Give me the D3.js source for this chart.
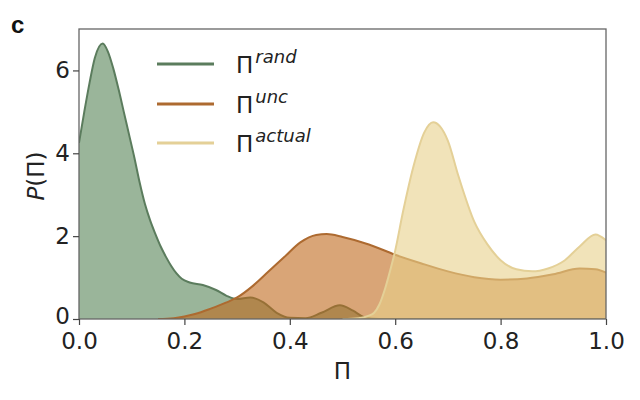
<!DOCTYPE html>
<html><head><meta charset="utf-8">
<script src="https://cdn.jsdelivr.net/npm/d3@7"></script>
<style>body{margin:0;background:#fff;} svg{display:block;font-family:"DejaVu Sans",sans-serif;}</style>
</head><body><svg id="c" width="640" height="400"></svg>
<script>
const xTicks = [0, 0.2, 0.4, 0.6, 0.8, 1.0];
const yTicks = [0, 2, 4, 6];
const seriesNames = ["rand", "unc", "actual"];
const randX = [0,0.01,0.02,0.03,0.045,0.055,0.065,0.075,0.085,0.095,0.105,0.115,0.125,0.135,0.145,0.155,0.165,0.175,0.185,0.195,0.21,0.235,0.26,0.28,0.30,0.325,0.35,0.375,0.40,0.43,0.46,0.495,0.52,0.54,0.57,0.6,1.0];
const randY = [4.25,5.0,5.7,6.3,6.65,6.45,6.05,5.55,5.0,4.45,3.9,3.3,2.78,2.38,2.05,1.75,1.5,1.28,1.1,0.97,0.88,0.82,0.7,0.56,0.48,0.52,0.4,0.15,0.03,0.02,0.15,0.33,0.2,0.05,0,0,0];
const uncX = [0.15,0.18,0.20,0.22,0.25,0.28,0.30,0.33,0.36,0.39,0.42,0.45,0.47,0.50,0.55,0.60,0.65,0.70,0.75,0.80,0.85,0.90,0.95,0.98,1.0];
const uncY = [0,0.02,0.06,0.12,0.25,0.4,0.52,0.8,1.15,1.5,1.85,2.03,2.05,1.98,1.8,1.55,1.34,1.15,1.01,0.95,0.98,1.08,1.22,1.2,1.12];
const actX = [0.50,0.53,0.55,0.56,0.57,0.58,0.59,0.60,0.615,0.635,0.655,0.672,0.685,0.70,0.72,0.75,0.775,0.80,0.83,0.86,0.89,0.92,0.95,0.98,1.0];
const actY = [0,0.02,0.08,0.15,0.35,0.7,1.15,1.65,2.6,3.7,4.5,4.75,4.65,4.3,3.45,2.35,1.8,1.42,1.2,1.15,1.22,1.4,1.75,2.04,1.9];

const lineColors = ["#5b7c5d", "#ad6a30", "#e4d097"];
const fillColors = ["#578457", "#c0691c", "#e8d08a"];

const svg = d3.select("#c");
const m = {l:79, r:606, t:29, b:319};
const x = d3.scaleLinear().domain([0,1]).range([m.l, m.r]);
const y = d3.scaleLinear().domain([0,7]).range([m.b, m.t]);

svg.append("clipPath").attr("id","clip").append("rect")
  .attr("x", m.l).attr("y", m.t).attr("width", m.r-m.l).attr("height", m.b-m.t);

const data = [d3.zip(randX, randY), d3.zip(uncX, uncY), d3.zip(actX, actY)];
const area = d3.area().x(d=>x(d[0])).y0(y(0)).y1(d=>y(d[1])).curve(d3.curveMonotoneX);
const line = d3.line().x(d=>x(d[0])).y(d=>y(d[1])).curve(d3.curveMonotoneX);
const g = svg.append("g").attr("clip-path","url(#clip)");
data.forEach((d,i)=>{
  g.append("path").attr("d", area(d)).attr("fill", fillColors[i]).attr("fill-opacity", 0.6);
  g.append("path").attr("d", line(d)).attr("fill","none").attr("stroke", lineColors[i]).attr("stroke-width", 2);
});

// frame
svg.append("rect").attr("x", m.l).attr("y", m.t).attr("width", m.r-m.l).attr("height", m.b-m.t)
  .attr("fill","none").attr("stroke","#666").attr("stroke-width",1.3);

const xa = svg.append("g").attr("transform",`translate(0,${m.b})`)
  .call(d3.axisBottom(x).tickValues(xTicks).tickFormat(d3.format(".1f")).tickSize(6).tickPadding(8));
const ya = svg.append("g").attr("transform",`translate(${m.l},0)`)
  .call(d3.axisLeft(y).tickValues(yTicks).tickFormat(d3.format("d")).tickSize(6).tickPadding(3));
[xa, ya].forEach(a=>{
  a.select(".domain").remove();
  a.selectAll("line").attr("stroke","#444").attr("stroke-width",1.2);
  a.selectAll("text").attr("fill","#222").style("font-size","23px").style("font-family","DejaVu Sans");
});
ya.selectAll(".tick").filter(d=>d===0).select("text").attr("dy","0.2em");

// axis labels
svg.append("text").attr("x", x(0.5)).attr("y", 379).attr("text-anchor","middle")
  .attr("fill","#222").style("font-size","23px").text("Π");
const yl = svg.append("text").attr("transform", `translate(44,176) rotate(-90)`).attr("text-anchor","middle")
  .attr("fill","#222").style("font-size","23px");
yl.append("tspan").style("font-style","italic").text("P");
yl.append("tspan").text("(Π)");

svg.append("text").attr("x", 11).attr("y", 33).attr("fill","#111")
  .style("font-size","24px").style("font-weight","bold").style("font-family","Liberation Sans").text("c");

// legend
const legY = [64, 104, 143];
seriesNames.forEach((n,i)=>{
  svg.append("line").attr("x1",157).attr("x2",214).attr("y1",legY[i]).attr("y2",legY[i])
    .attr("stroke", lineColors[i]).attr("stroke-width",3);
  const t = svg.append("text").attr("x",236).attr("y",legY[i]+9).attr("fill","#222").style("font-size","23px");
  t.append("tspan").text("Π");
  t.append("tspan").attr("dy",-10).attr("dx",2).style("font-size","18px").style("font-style","italic").text(n);
});
</script></body></html>
